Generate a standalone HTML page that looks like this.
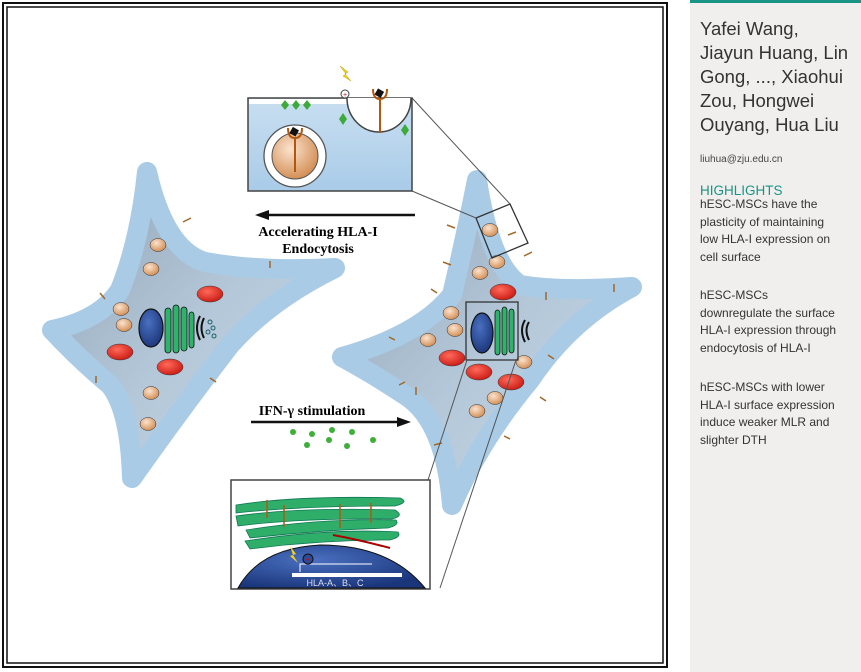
<!DOCTYPE html>
<html><head><meta charset="utf-8"><style>
html,body{margin:0;padding:0;background:#fff;width:861px;height:672px;overflow:hidden;font-family:"Liberation Sans",sans-serif}
#side{position:absolute;left:690px;top:0;width:171px;height:672px;background:#f0efee;border-top:3px solid #1a9484;box-sizing:border-box}
.au{position:absolute;left:10px;top:14px;font-size:18.5px;line-height:24px;color:#333;width:165px}
.em{position:absolute;left:10px;top:151px;font-size:10px;color:#444}
.hl{position:absolute;left:10px;top:180px;font-size:13.5px;color:#1a9484}
.tx{position:absolute;left:10px;font-size:12px;line-height:17.5px;color:#333;width:170px;white-space:nowrap}
</style></head><body>
<svg width="690" height="672" style="position:absolute;left:0;top:0" xmlns="http://www.w3.org/2000/svg">
<defs>
<linearGradient id="cg" x1="0" y1="0" x2="1" y2="1"><stop offset="0" stop-color="#8fa2b3"/><stop offset="0.5" stop-color="#b3c7d8"/><stop offset="1" stop-color="#c8dbea"/></linearGradient>
<linearGradient id="bx" x1="0" y1="0" x2="0" y2="1"><stop offset="0" stop-color="#c9dff1"/><stop offset="1" stop-color="#a9cbe8"/></linearGradient>
<radialGradient id="pe" cx="0.4" cy="0.35" r="0.7"><stop offset="0" stop-color="#fbe3cf"/><stop offset="1" stop-color="#d18a4e"/></radialGradient>
<radialGradient id="rd" cx="0.4" cy="0.35" r="0.7"><stop offset="0" stop-color="#ff6a5a"/><stop offset="1" stop-color="#c81812"/></radialGradient>
<radialGradient id="nu" cx="0.4" cy="0.35" r="0.7"><stop offset="0" stop-color="#4a70c0"/><stop offset="1" stop-color="#1a357a"/></radialGradient>
</defs>
<rect x="3" y="3" width="664" height="664" fill="none" stroke="#111" stroke-width="2"/>
<rect x="7" y="7" width="656" height="656" fill="none" stroke="#111" stroke-width="1.5"/>

<path d="M147,172 Q165,250 205,262 Q260,272 335,268 Q270,300 230,345 Q180,410 132,478 Q130,410 110,385 Q80,360 52,330 Q100,320 120,290 Q140,240 147,172Z" fill="url(#cg)" stroke="#a9cbe6" stroke-width="20" stroke-linejoin="round"/>
<path d="M477,180 Q490,265 520,285 Q560,292 632,287 Q570,320 530,380 Q480,440 452,505 Q445,420 405,395 Q370,372 342,357 Q420,335 452,295 Q465,240 477,180Z" fill="url(#cg)" stroke="#a9cbe6" stroke-width="20" stroke-linejoin="round"/>

<g stroke="#333" stroke-width="0.5">
<ellipse cx="158" cy="245" rx="8" ry="6.5" fill="url(#pe)"/><ellipse cx="151" cy="269" rx="8" ry="6.5" fill="url(#pe)"/>
<ellipse cx="121" cy="309" rx="8" ry="6.5" fill="url(#pe)"/><ellipse cx="124" cy="325" rx="8" ry="6.5" fill="url(#pe)"/>
<ellipse cx="151" cy="393" rx="8" ry="6.5" fill="url(#pe)"/><ellipse cx="148" cy="424" rx="8" ry="6.5" fill="url(#pe)"/>
<ellipse cx="210" cy="294" rx="13" ry="8" fill="url(#rd)"/><ellipse cx="120" cy="352" rx="13" ry="8" fill="url(#rd)"/><ellipse cx="170" cy="367" rx="13" ry="8" fill="url(#rd)"/>
<ellipse cx="151" cy="328" rx="12" ry="19" fill="url(#nu)" stroke="#111" stroke-width="1.2"/>
</g>
<g fill="#2db36a" stroke="#111" stroke-width="0.8">
<rect x="165" y="308" width="6" height="45" rx="3"/><rect x="173" y="305" width="6" height="48" rx="3"/><rect x="181" y="307" width="6" height="44" rx="3"/><rect x="189" y="312" width="5" height="36" rx="3"/>
</g>
<path d="M200,316 Q194,328 200,340 M204,318 Q199,328 204,338" stroke="#111" fill="none" stroke-width="2"/>
<g fill="none" stroke="#1b5f6a" stroke-width="1"><circle cx="210" cy="322" r="2"/><circle cx="213" cy="328" r="2"/><circle cx="208" cy="332" r="2"/><circle cx="214" cy="336" r="2"/></g>

<g stroke="#333" stroke-width="0.5">
<ellipse cx="490" cy="230" rx="8" ry="6.5" fill="url(#pe)"/><ellipse cx="497" cy="262" rx="8" ry="6.5" fill="url(#pe)"/><ellipse cx="480" cy="273" rx="8" ry="6.5" fill="url(#pe)"/>
<ellipse cx="451" cy="313" rx="8" ry="6.5" fill="url(#pe)"/><ellipse cx="455" cy="330" rx="8" ry="6.5" fill="url(#pe)"/><ellipse cx="428" cy="340" rx="8" ry="6.5" fill="url(#pe)"/>
<ellipse cx="524" cy="362" rx="8" ry="6.5" fill="url(#pe)"/><ellipse cx="495" cy="398" rx="8" ry="6.5" fill="url(#pe)"/><ellipse cx="477" cy="411" rx="8" ry="6.5" fill="url(#pe)"/>
<ellipse cx="503" cy="292" rx="13" ry="8" fill="url(#rd)"/><ellipse cx="452" cy="358" rx="13" ry="8" fill="url(#rd)"/><ellipse cx="479" cy="372" rx="13" ry="8" fill="url(#rd)"/><ellipse cx="511" cy="382" rx="13" ry="8" fill="url(#rd)"/>
<ellipse cx="482" cy="333" rx="11" ry="20" fill="url(#nu)" stroke="#111" stroke-width="1.2"/>
</g>
<g fill="#2db36a" stroke="#111" stroke-width="0.8">
<rect x="495" y="310" width="5" height="45" rx="3"/><rect x="502" y="307" width="5" height="48" rx="3"/><rect x="509" y="309" width="5" height="44" rx="3"/>
</g>
<path d="M525,320 Q519,330 525,342 M529,322 Q524,330 529,340" stroke="#111" fill="none" stroke-width="2"/>
<rect x="466" y="302" width="52" height="58" fill="none" stroke="#333" stroke-width="1.3"/>
<polygon points="476,218 510,204 528,243 492,258" fill="none" stroke="#333" stroke-width="1.3"/>

<g stroke="#a0682a" stroke-width="1.5" fill="#c98a4a">
<path d="M183,222 l8,-4 M100,293 l5,6 M270,268 l0,-7 M96,376 l0,7 M210,378 l6,4"/>
<path d="M455,228 l-8,-3 M508,235 l8,-3 M524,256 l8,-4 M451,265 l-8,-3 M546,292 l0,8 M614,284 l0,8 M437,293 l-6,-4 M395,340 l-6,-3 M405,382 l-6,3 M416,387 l0,8 M548,355 l6,4 M540,397 l6,4 M504,436 l6,3 M442,443 l-8,2"/>
</g>

<g stroke="#555" stroke-width="1" fill="none">
<line x1="412" y1="98" x2="510" y2="204"/><line x1="412" y1="191" x2="476" y2="218"/>
<line x1="467" y1="360" x2="428" y2="480"/><line x1="516" y1="360" x2="440" y2="588"/>
</g>

<rect x="248" y="98" width="164" height="93" fill="url(#bx)" stroke="#444" stroke-width="1.5"/>
<rect x="249" y="99" width="162" height="5" fill="#fff"/>
<path d="M347,98 A32,34 0 0 0 411,98" fill="#fff" stroke="#444" stroke-width="1.5"/>
<circle cx="295" cy="156" r="31" fill="#fff" stroke="#555" stroke-width="1.3"/>
<circle cx="295" cy="156" r="23" fill="url(#pe)" stroke="#555"/>
<path d="M288,128 Q288,138 295,138 Q302,138 302,128 M295,138 V172" stroke="#b2580e" stroke-width="2" fill="none"/>
<rect x="291" y="128" width="7" height="7" fill="#111" transform="rotate(30 294 131)"/>
<path d="M373,89 Q373,99 380,99 Q387,99 387,89 M380,99 V133" stroke="#b2580e" stroke-width="2" fill="none"/>
<rect x="376" y="90" width="7" height="7" fill="#111" transform="rotate(30 380 93)"/>
<g fill="#3daa3a"><path d="M285,100 l4,5 -4,5 -4,-5z M296,100 l4,5 -4,5 -4,-5z M307,100 l4,5 -4,5 -4,-5z M343,113 l4,6 -4,6 -4,-6z M405,124 l4,6 -4,6 -4,-6z"/></g>
<circle cx="345" cy="94" r="4" fill="#fff" stroke="#444"/><text x="345" y="97" font-size="7" text-anchor="middle" fill="#d00">+</text>
<path d="M340,66 l8,6 -3,2 6,7 -8,-5 3,-2z" fill="#f2d21a" stroke="#b89a00" stroke-width="0.5"/>

<line x1="268" y1="215" x2="415" y2="215" stroke="#111" stroke-width="2.5"/>
<path d="M255,215 l14,-5 v10z" fill="#111"/>
<text x="318" y="236" font-family="Liberation Serif,serif" font-weight="bold" font-size="14" text-anchor="middle">Accelerating HLA-I</text>
<text x="318" y="253" font-family="Liberation Serif,serif" font-weight="bold" font-size="14" text-anchor="middle">Endocytosis</text>
<text x="312" y="415" font-family="Liberation Serif,serif" font-weight="bold" font-size="14" text-anchor="middle">IFN-γ stimulation</text>
<line x1="251" y1="422" x2="398" y2="422" stroke="#111" stroke-width="2.5"/>
<path d="M411,422 l-14,-5 v10z" fill="#111"/>
<g fill="#3db03a"><circle cx="293" cy="432" r="3"/><circle cx="312" cy="434" r="3"/><circle cx="332" cy="430" r="3"/><circle cx="307" cy="445" r="3"/><circle cx="329" cy="440" r="3"/><circle cx="347" cy="446" r="3"/><circle cx="352" cy="432" r="3"/><circle cx="373" cy="440" r="3"/></g>

<rect x="231" y="480" width="199" height="109" fill="#fff" stroke="#444" stroke-width="1.5"/>
<g fill="#2fae6a" stroke="#175" stroke-width="0.8">
<path d="M236,505 Q300,495 400,498 Q410,502 395,506 Q300,506 236,513Z"/>
<path d="M236,516 Q300,507 395,510 Q405,516 392,519 Q300,518 238,526Z"/>
<path d="M246,530 Q320,518 396,520 Q400,525 388,528 Q320,530 250,538Z"/>
<path d="M245,541 Q330,528 398,532 Q402,537 390,540 Q320,540 250,549Z"/>
</g>
<g stroke="#b2580e" stroke-width="1.5" fill="none"><path d="M267,500 v18 M284,505 v22 M340,504 v24 M371,503 v20"/></g>
<path d="M333,535 Q360,540 390,548" stroke="#a00" stroke-width="2" fill="none"/>
<path d="M238,588 Q260,548 320,545 Q390,545 425,588Z" fill="url(#nu)" stroke="#111" stroke-width="1"/>
<rect x="292" y="573" width="110" height="4" fill="#fff"/>
<path d="M300,572 v-8 h72" stroke="#fff" fill="none" stroke-width="1"/>
<circle cx="308" cy="559" r="5" fill="#2a4a9a" stroke="#111"/><text x="308" y="562" font-size="8" fill="#e00" text-anchor="middle">+</text>
<path d="M290,546 l6,8 -3,1 5,8 -8,-7 3,-1z" fill="#f2d21a"/>
<text x="335" y="586" font-size="9" fill="#dde" text-anchor="middle">HLA-A、B、C</text>
</svg>

<div id="side">
<div class="au">Yafei Wang,<br>Jiayun Huang, Lin<br>Gong, ..., Xiaohui<br>Zou, Hongwei<br>Ouyang, Hua Liu</div>
<div class="em">liuhua@zju.edu.cn</div>
<div class="hl">HIGHLIGHTS</div>
<div class="tx" style="top:193px">hESC-MSCs have the<br>plasticity of maintaining<br>low HLA-I expression on<br>cell surface</div>
<div class="tx" style="top:284px">hESC-MSCs<br>downregulate the surface<br>HLA-I expression through<br>endocytosis of HLA-I</div>
<div class="tx" style="top:376px">hESC-MSCs with lower<br>HLA-I surface expression<br>induce weaker MLR and<br>slighter DTH</div>
</div>
</body></html>
